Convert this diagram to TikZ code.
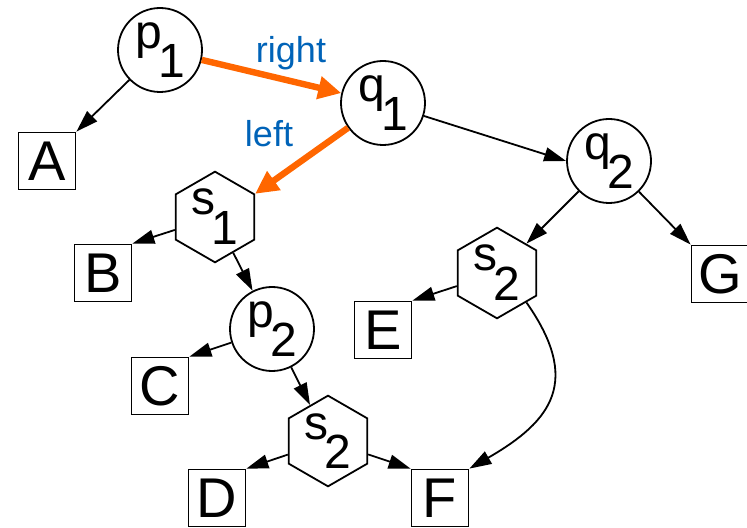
\documentclass[tikz,border=0pt]{standalone}
\usepackage{fontspec}
\setmainfont{Liberation Sans}
\usetikzlibrary{arrows.meta,shapes.geometric}
\definecolor{pathorange}{RGB}{255,102,0}
\definecolor{dirblue}{RGB}{0,99,184}
\newcommand{\sublbl}[2]{#1\kern-0.08em\raisebox{-0.62em}{#2}}
\tikzset{
  pnode/.style={circle,draw,line width=0.9pt,minimum size=42pt,inner sep=0pt,
    font=\fontsize{24}{24}\selectfont},
  snode/.style={regular polygon,regular polygon sides=6,shape border rotate=30,
    draw,line width=0.9pt,minimum size=42.5pt,inner sep=0pt,
    font=\fontsize{24}{24}\selectfont},
  leaf/.style={rectangle,draw,line width=0.9pt,minimum size=28.5pt,inner sep=0pt,
    font=\fontsize{28}{28}\selectfont},
  tedge/.style={-{Triangle[length=11pt,width=7pt]},line width=0.9pt},
  hedge/.style={-{Triangle[length=11.5pt,width=11pt]},line width=3.2pt,pathorange},
  dirlbl/.style={dirblue,font=\fontsize{18}{18}\selectfont},
}
\begin{document}
\begin{tikzpicture}[x=0.5pt,y=-0.5pt]
  \useasboundingbox (0,0) rectangle (747,528);
  % inner nodes
  \node[pnode] (p1) at (160,50) {\sublbl{p}{1}};
  \node[pnode] (q1) at (383,103) {\sublbl{q}{1}};
  \node[pnode] (q2) at (609,161) {\sublbl{q}{2}};
  \node[snode] (s1) at (215,217) {\sublbl{s}{1}};
  \node[pnode] (p2) at (272,329) {\sublbl{p}{2}};
  \node[snode] (s2a) at (328,441) {\sublbl{s}{2}};
  \node[snode] (s2b) at (497,273) {\sublbl{s}{2}};
  % leaves
  \node[leaf] (A) at (47,161) {A};
  \node[leaf] (B) at (103,273) {B};
  \node[leaf] (C) at (160,386) {C};
  \node[leaf] (D) at (217,498) {D};
  \node[leaf] (E) at (383,330) {E};
  \node[leaf] (F) at (440,498) {F};
  \node[leaf] (G) at (720,274) {G};
  % search path
  \draw[hedge] (p1) -- (q1);
  \draw[hedge] (q1) -- (s1.30);
  \node[dirlbl] (rlbl) at (291,53) {right};
  \node[dirlbl] (llbl) at (269,134) {left};
  % tree edges
  \draw[tedge] (p1) -- (A.north east);
  \draw[tedge] (q1) -- (q2.west);
  \draw[tedge] (q2) -- (s2b);
  \draw[tedge] (q2) -- (G.north west);
  \draw[tedge] (s2b) -- (E.north east);
  \draw[tedge] (s2b.-45) to[out=-55,in=30,looseness=1.4] (F.north east);
  \draw[tedge] (s1) -- (B.north east);
  \draw[tedge] (s1) -- (p2);
  \draw[tedge] (p2) -- (C.north east);
  \draw[tedge] (p2) -- (s2a);
  \draw[tedge] (s2a) -- (D.north east);
  \draw[tedge] (s2a) -- (F.north west);
\end{tikzpicture}
\end{document}
